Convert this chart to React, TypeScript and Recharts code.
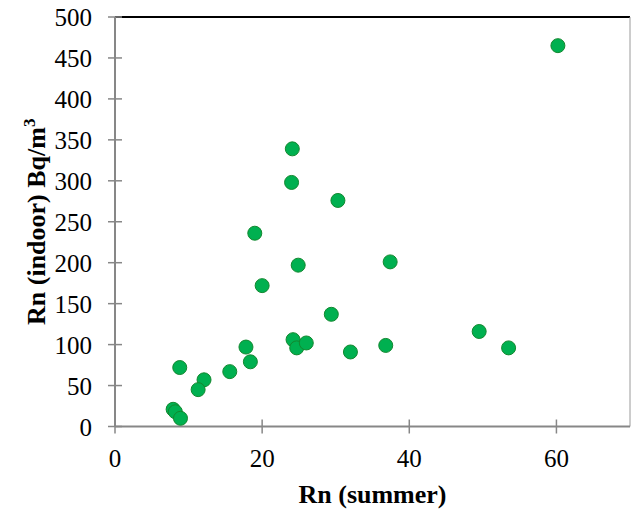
import { ScatterChart, Scatter, XAxis, YAxis, ReferenceLine } from "recharts";

// Rn measured in summer vs. indoor Rn concentration (Bq/m3)
const rnSummer = [
  60.2, 24.1, 24.0, 30.3, 19.0, 24.9, 37.4, 20.0, 29.4, 24.2, 24.7, 26.0, 32.0,
  36.8, 49.5, 53.5, 17.8, 18.4, 15.6, 12.1, 11.3, 8.8, 7.9, 8.2, 8.9,
];
const rnIndoor = [
  465, 339, 298, 276, 236, 197, 201, 172, 137, 106, 96, 102, 91, 99, 116, 96,
  97, 79, 67, 57, 45, 72, 21, 18, 10,
];
const xTicks = [0, 20, 40, 60];
const yTicks = [0, 50, 100, 150, 200, 250, 300, 350, 400, 450, 500];

const points = rnSummer.map((x, i) => ({ x, y: rnIndoor[i] }));

const FONT = "'Liberation Serif', 'Times New Roman', serif";
const AXIS_GREY = "#878787";

const XTick = ({ x, y, payload }: any) => (
  <g>
    <line x1={x} x2={x} y1={y - 7} y2={y + 7} stroke={AXIS_GREY} strokeWidth={1.5} />
    <text x={x} y={y + 40} textAnchor="middle" fontSize={25} fontFamily={FONT} fill="#000">
      {payload.value}
    </text>
  </g>
);

const YTick = ({ x, y, payload }: any) => (
  <g>
    <line x1={x - 7} x2={x + 7} y1={y} y2={y} stroke={AXIS_GREY} strokeWidth={1.5} />
    <text x={x - 23} y={y + 9} textAnchor="end" fontSize={25} fontFamily={FONT} fill="#000">
      {payload.value}
    </text>
  </g>
);

const YTitle = ({ viewBox }: any) => {
  const cx = 45;
  const cy = viewBox.y + viewBox.height / 2;
  return (
    <text
      x={cx}
      y={cy}
      transform={`rotate(-90, ${cx}, ${cy})`}
      textAnchor="middle"
      fontSize={26}
      fontWeight="bold"
      fontFamily={FONT}
      fill="#000"
    >
      Rn (indoor) Bq/m
      <tspan dy={-10} fontSize={17}>
        3
      </tspan>
    </text>
  );
};

const Dot = ({ cx, cy }: any) => (
  <circle cx={cx} cy={cy} r={7} fill="#00B050" stroke="#12882F" strokeWidth={1} />
);

export default function App() {
  return (
    <div style={{ position: "absolute", left: 0, top: 0, background: "#fff" }}>
      <ScatterChart
        width={631}
        height={513}
        margin={{ top: 17, right: 1, left: 0, bottom: 0 }}
      >
        <XAxis
          type="number"
          dataKey="x"
          domain={[0, 70]}
          ticks={xTicks}
          height={86.5}
          tickSize={0}
          tickMargin={0}
          tick={<XTick />}
          axisLine={{ stroke: AXIS_GREY, strokeWidth: 2 }}
          tickLine={false}
          label={{
            value: "Rn (summer)",
            position: "insideBottom",
            offset: 10,
            fontSize: 26,
            fontWeight: "bold",
            fontFamily: FONT,
            fill: "#000",
          }}
        />
        <YAxis
          type="number"
          dataKey="y"
          domain={[0, 500]}
          ticks={yTicks}
          width={115}
          tickSize={0}
          tickMargin={0}
          tick={<YTick />}
          axisLine={{ stroke: AXIS_GREY, strokeWidth: 2 }}
          tickLine={false}
          label={<YTitle />}
        />
        <ReferenceLine y={500} stroke="#000" strokeWidth={2} />
        <ReferenceLine x={70} stroke="#9a9a9a" strokeWidth={1} />
        <Scatter data={points} shape={<Dot />} isAnimationActive={false} />
      </ScatterChart>
    </div>
  );
}
